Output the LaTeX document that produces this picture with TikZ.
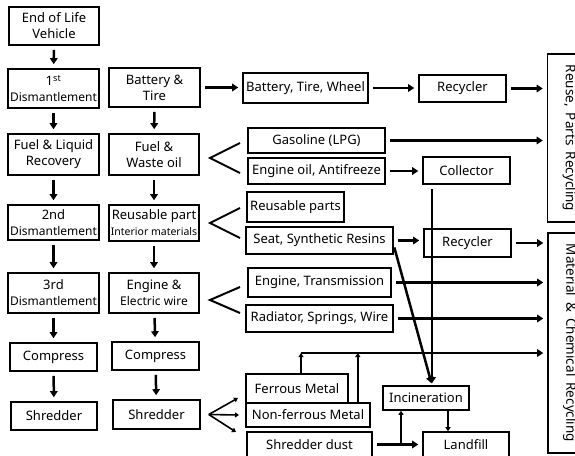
\documentclass[tikz,border=0pt]{standalone}
\usepackage{fontspec}
\setmainfont{Noto Sans}
\usetikzlibrary{arrows.meta}

\newcommand{\narrowfont}{\fontsize{12}{15}\selectfont}
\newcommand{\sidefont}{\fontsize{13.5}{16}\selectfont\spaceskip 0.45em\relax}

\tikzset{
	box/.style = {draw = black, line width = 1.6pt, inner sep = 1pt, align = center,
		font = \fontsize{13}{16}\selectfont},
	sz/.style 2 args = {minimum width = #1, minimum height = #2},
	side/.style = {rotate = -90, font = \sidefont},
	arr/.style = {line width = 2.5pt, -{Triangle[length=6pt, width=7.5pt]},
		shorten <= 4pt, shorten >= 4pt},
	thin arr/.style = {line width = 1.6pt, -{Triangle[length=4pt, width=5pt]}},
	fork/.style = {line width = 2pt}
}

\begin{document}
\begin{tikzpicture}[x = 1pt, y = -1pt]

	\useasboundingbox (0, 0) rectangle (575, 455);
	\clip (0, 0) rectangle (575, 455);

	% dismantling steps
	\node (EOL) at ( 54.0,  26.0) [box, sz={90}{38}] {End of Life\\Vehicle};
	\node (D1)  at ( 53.5,  88.5) [box, sz={91}{39}] {1\textsuperscript{st}\\{\narrowfont Dismantlement}};
	\node (FL)  at ( 53.5, 154.5) [box, sz={91}{41}] {Fuel \& Liquid\\Recovery};
	\node (D2)  at ( 53.5, 222.5) [box, sz={91}{35}] {2nd\\{\narrowfont Dismantlement}};
	\node (D3)  at ( 53.5, 293.0) [box, sz={91}{40}] {3rd\\{\narrowfont Dismantlement}};
	\node (CL)  at ( 53.5, 357.0) [box, sz={87}{28}] {Compress};
	\node (SL)  at ( 54.0, 416.0) [box, sz={86}{28}] {Shredder};

	% parts taken out
	\node (BT)  at (154.5,  87.5) [box, sz={91}{39}] {Battery \&\\Tire};
	\node (FW)  at (154.0, 154.5) [box, sz={90}{41}] {Fuel \&\\Waste oil};
	\node (RP)  at (154.0, 223.0) [box, sz={90}{36}] {Reusable part\\{\fontsize{10.5}{13}\selectfont Interior materials}};
	\node (EW)  at (154.0, 293.0) [box, sz={90}{40}] {Engine \&\\{\narrowfont Electric wire}};
	\node (CR)  at (155.5, 356.0) [box, sz={87}{28}] {Compress};
	\node (SR)  at (156.5, 414.5) [box, sz={87}{29}] {Shredder};

	% materials
	\node (BTW)  at (305.5,  88.0) [box, sz={125}{30}] {Battery, Tire, Wheel};
	\node (GAS)  at (316.5, 140.5) [box, sz={137}{25}] {Gasoline (LPG)};
	\node (EO)   at (316.5, 171.0) [box, sz={137}{26}] {Engine oil, Antifreeze};
	\node (RPS)  at (295.5, 207.0) [box, sz={97}{30}]  {Reusable parts};
	\node (SEAT) at (319.5, 240.5) [box, sz={147}{27}] {Seat, Synthetic Resins};
	\node (ET)   at (319.5, 282.5) [box, sz={143}{29}] {Engine, Transmission};
	\node (RAD)  at (319.5, 318.5) [box, sz={147}{27}] {Radiator, Springs, Wire};
	\node (FE)   at (297.0, 388.5) [box, sz={102}{29}] {Ferrous Metal};
	\node (NF)   at (308.0, 415.0) [box, sz={124}{24}] {Non-ferrous Metal};
	\node (SD)   at (309.5, 444.5) [box, sz={125}{25}] {Shredder dust};

	% handlers
	\node (REC1) at (462.5,  88.5) [box, sz={87}{27}] {Recycler};
	\node (COL)  at (466.5, 170.5) [box, sz={87}{27}] {Collector};
	\node (REC2) at (467.5, 243.0) [box, sz={87}{28}] {Recycler};
	\node (INC)  at (426.0, 398.0) [box, sz={86}{24}] {Incineration};
	\node (LF)   at (466.0, 444.5) [box, sz={86}{25}] {Landfill};

	% destinations
	\node (REUSE) at (569.5, 138.0) [box, side, sz={168}{44}] {Reuse, Parts Recycling};
	\node (MAT)   at (570.0, 343.0) [box, side, sz={220}{44}] {Material \& Chemical Recycling};

	\coordinate (tip)   at ([xshift=6pt]INC.north);
	\coordinate (fan)   at ([xshift=8pt]SR.east);
	\coordinate (f1)    at (238, 398);
	\coordinate (f2)    at (239, 415);
	\coordinate (f3)    at (236, 432);
	\coordinate (bus)   at (301, 353);
	\coordinate (feup)  at ([xshift=4pt]FE.north);
	\coordinate (nfup)  at ([xshift=-13pt]NF.north east);
	\coordinate (split) at (401, 444.5);
	\coordinate (inclf) at ([xshift=22pt]INC.south);

	\foreach \from/\to in {EOL/D1, D1/FL, FL/D2, D2/D3, D3/CL, CL/SL,
		BT/FW, FW/RP, RP/EW, EW/CR, CR/SR}
		\draw [arr] (\from) -- (\to);

	\foreach \from/\to in {BT/BTW, BTW/REC1, EO/COL, SEAT/REC2, SD/LF}
		\draw [arr] (\from.east) -- (\from.east -| \to.west);

	\foreach \from in {REC1, GAS}
		\draw [arr] (\from.east) -- (\from.east -| REUSE.south);

	\foreach \from in {REC2, ET, RAD}
		\draw [arr] (\from.east) -- (\from.east -| MAT.south);

	\draw [arr, shorten <= 0pt] (bus) -- (bus -| MAT.south);
	\foreach \p in {feup, nfup}
		\draw [thin arr] (\p) -- (\p |- bus);

	% to incineration
	\draw [arr, shorten >= 2pt] (COL.south -| tip) -- (tip);
	\draw [arr, shorten <= 2pt, shorten >= 2pt] ([yshift=-5pt]SEAT.east) -- (tip);
	\draw [thin arr, line width = 2.2pt] (split) -- (split |- INC.south);
	\draw [thin arr] (inclf) -- (inclf |- LF.north);

	% shredder output
	\foreach \t in {f1, f2, f3}
		\draw [thin arr] (fan) -- (\t);

	\draw [fork] (240, 143) -- (210, 158) -- (240, 173);
	\draw [fork] (240, 208) -- (210, 223) -- (240, 238);
	\draw [fork] (240, 287) -- (210, 300) -- (240, 313);

\end{tikzpicture}
\end{document}
